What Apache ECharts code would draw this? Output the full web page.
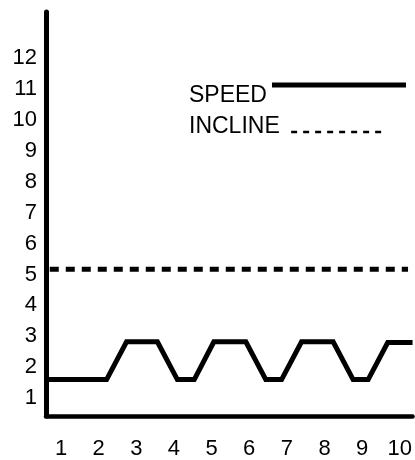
<!DOCTYPE html>
<html>
<head>
<meta charset="utf-8">
<script src="https://cdn.jsdelivr.net/npm/echarts@6/dist/echarts.min.js"></script>
<style>
html,body{margin:0;padding:0;background:#fff;}
#chart{width:415px;height:460px;}
</style>
</head>
<body>
<div id="chart"></div>
<script>
// Data
var xTickLabels = [1, 2, 3, 4, 5, 6, 7, 8, 9, 10];
var yTickLabels = [1, 2, 3, 4, 5, 6, 7, 8, 9, 10, 11, 12];
var speedTimes  = [0.61, 2.21, 2.74, 3.56, 4.09, 4.54, 5.06, 5.91, 6.44, 6.86, 7.39, 8.23, 8.76, 9.16, 9.68, 10.34];
var speedValues = [1.60, 1.60, 2.82, 2.82, 1.60, 1.60, 2.82, 2.82, 1.60, 1.60, 2.82, 2.82, 1.60, 1.60, 2.80, 2.80];
var inclineTimes  = [0.70, 10.22];
var inclineValues = [5.17, 5.17];
var seriesNames = ['SPEED', 'INCLINE'];

function pairs(xs, ys) {
  return xs.map(function (x, i) { return [x, ys[i]]; });
}

var FONT = "'Liberation Sans', Arial, Helvetica, sans-serif";
var chart = echarts.init(document.getElementById('chart'), null, {renderer: 'canvas'});

chart.setOption({
  animation: false,
  backgroundColor: '#ffffff',
  textStyle: {fontFamily: FONT, color: '#000'},
  grid: {left: 46, right: 0, top: 12, bottom: 44, containLabel: false},
  legend: [
    {
      data: [seriesNames[0]],
      left: 189, top: 63, padding: 0,
      align: 'right',
      itemWidth: 134, itemHeight: 10,
      selectedMode: false,
      formatter: function (name) { return '\n' + name; },
      itemStyle: {opacity: 0},
      lineStyle: {width: 5, type: 'solid', color: '#000'},
      textStyle: {fontFamily: FONT, fontSize: 23, lineHeight: 21, color: '#000'}
    },
    {
      data: [seriesNames[1]],
      left: 189, top: 115, padding: 0,
      align: 'right',
      itemWidth: 91, itemHeight: 10,
      selectedMode: false,
      formatter: function (name) { return name + ' \n'; },
      itemStyle: {opacity: 0},
      lineStyle: {width: 2.5, type: [6, 6], color: '#000'},
      textStyle: {fontFamily: FONT, fontSize: 23, lineHeight: 11, color: '#000'}
    }
  ],
  xAxis: {
    type: 'value',
    min: 0.60, max: 10.34,
    axisLine: {show: true, onZero: false, lineStyle: {color: '#000', width: 4.5}},
    axisTick: {show: false},
    splitLine: {show: false},
    axisLabel: {
      customValues: xTickLabels,
      margin: 22,
      fontSize: 22,
      fontFamily: FONT,
      color: '#000'
    }
  },
  yAxis: {
    type: 'value',
    min: 0.42, max: 13.5,
    axisLine: {show: true, onZero: false, lineStyle: {color: '#000', width: 5}},
    axisTick: {show: false},
    splitLine: {show: false},
    axisLabel: {
      customValues: yTickLabels,
      margin: 9,
      fontSize: 22,
      fontFamily: FONT,
      color: '#000'
    }
  },
  series: [
    {
      name: seriesNames[0],
      type: 'line',
      data: pairs(speedTimes, speedValues),
      symbol: 'none',
      clip: false,
      lineStyle: {color: '#000', width: 5, join: 'miter'},
      itemStyle: {color: '#000'}
    },
    {
      name: seriesNames[1],
      type: 'line',
      data: pairs(inclineTimes, inclineValues),
      symbol: 'none',
      clip: false,
      lineStyle: {color: '#000', width: 5, type: [9, 7]},
      itemStyle: {color: '#000'}
    }
  ]
});
</script>
</body>
</html>
